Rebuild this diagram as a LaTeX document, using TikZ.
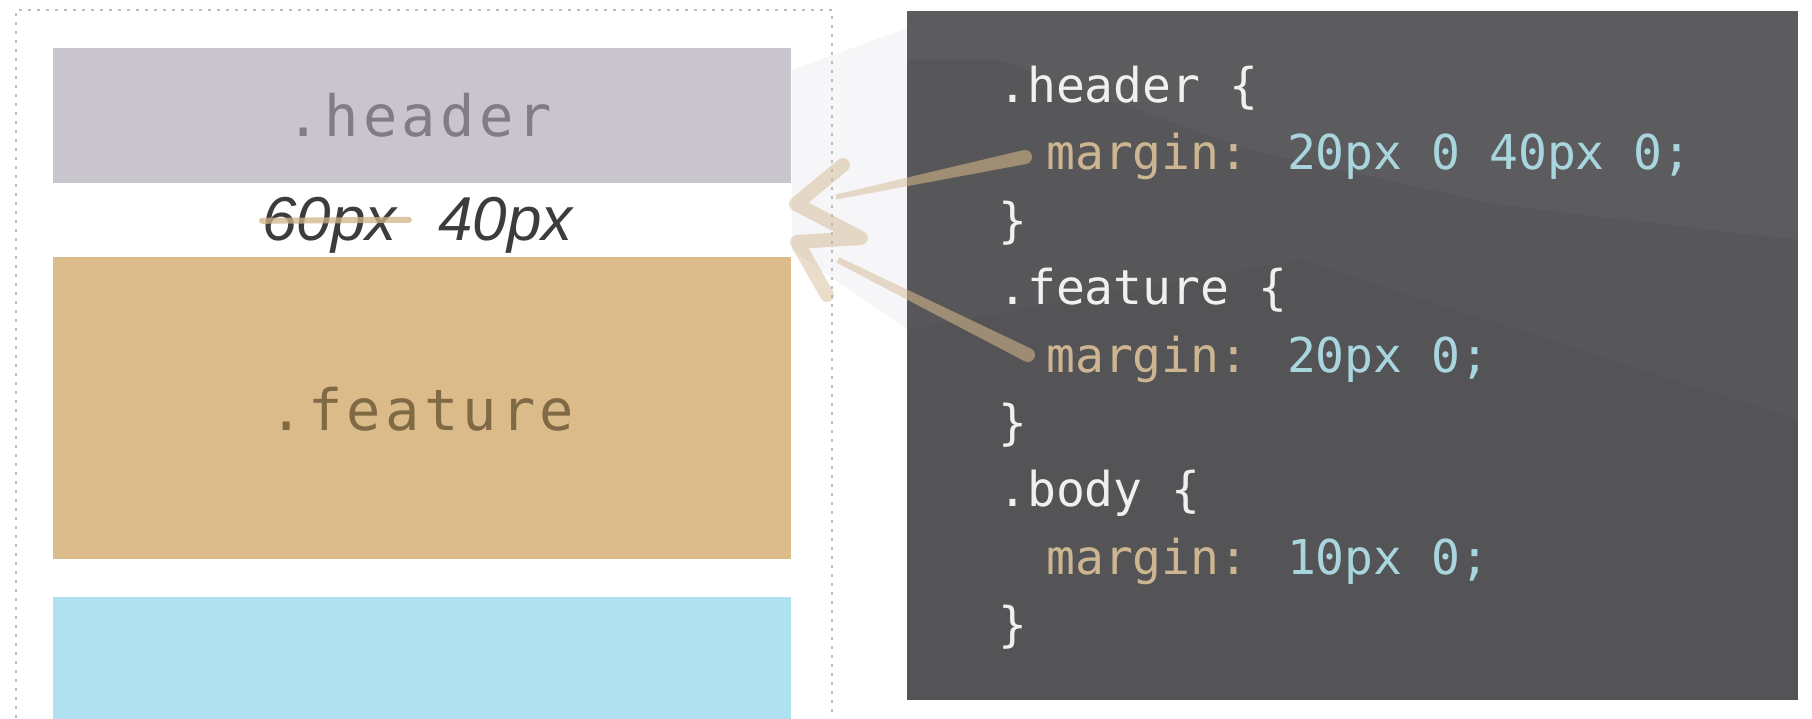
\documentclass[tikz,border=0pt]{standalone}
\usepackage{fontspec}
\newfontfamily\codefont{DejaVu Sans Mono}
\newfontfamily\boxfont[LetterSpace=7.5]{DejaVu Sans Mono}
\newfontfamily\notefont{Liberation Sans}
\definecolor{headerbg}{HTML}{C9C5CD}
\definecolor{headerfg}{HTML}{807D85}
\definecolor{featurebg}{HTML}{DBBB89}
\definecolor{featurefg}{HTML}{806A46}
\definecolor{bodybg}{HTML}{B0E1F0}
\definecolor{panelbg}{HTML}{57575A}
\definecolor{codewhite}{HTML}{F0F0F0}
\definecolor{prop}{HTML}{CDB592}
\definecolor{val}{HTML}{A9D6DE}
\definecolor{notefg}{HTML}{3C3C3E}
\definecolor{brush}{HTML}{D2B488}
\definecolor{dotgray}{HTML}{BDBDBD}
\definecolor{haze}{HTML}{F6F5F8}
\tikzset{
  blockbox/.style={anchor=north west, inner sep=0pt, outer sep=0pt, draw=none},
  boxlabel/.style={anchor=base, inner sep=0pt, font=\boxfont\fontsize{57}{60}\selectfont},
  codeline/.style={anchor=base west, inner sep=0pt, text=codewhite, font=\codefont\fontsize{48}{52}\selectfont},
  note/.style={anchor=base west, inner sep=0pt, text=notefg, font=\notefont\itshape\fontsize{62}{64}\selectfont},
  strike/.style={draw=brush, line width=6pt, line cap=round, opacity=0.75},
  brushline/.style={draw=brush, line width=14pt, line cap=round, line join=round},
  dotline/.style={draw=dotgray, line width=2pt, dash pattern=on 3pt off 6pt}
}
\begin{document}
\begin{tikzpicture}[x=1pt, y=-1pt]
\useasboundingbox (0,0) rectangle (1812,718);
\fill[white] (0,0) rectangle (1812,718);

% faint haze between layout and panel
\fill[haze] (792,70) -- (908,28) -- (908,330) -- (792,250) -- cycle;

% dotted container
\coordinate (cbl) at (16,718);
\coordinate (ctl) at (16,10);
\coordinate (ctr) at (832,10);
\coordinate (cbr) at (832,718);
\draw[dotline] (cbl) -- (ctl) -- (ctr) -- (cbr);

% layout blocks
\node[blockbox, fill=headerbg, minimum width=738pt, minimum height=135pt] (header) at (53,48) {};
\node[boxlabel, text=headerfg] (headerlbl) at (419,136.7) {.header};
\node[blockbox, fill=featurebg, minimum width=738pt, minimum height=302pt] (feature) at (53,257) {};
\node[boxlabel, text=featurefg] (featurelbl) at (422,430.7) {.feature};
\node[blockbox, fill=bodybg, minimum width=738pt, minimum height=122pt] (body) at (53,597) {};

% margin note
\node[note] (old) at (262,240) {60px};
\node[note] (new) at (438,240) {40px};
\draw[strike] ([xshift=0pt,yshift=4pt]old.west) -- ([xshift=12pt,yshift=5pt]old.east);

% code panel
\node[blockbox, fill=panelbg, minimum width=891pt, minimum height=689pt] (panel) at (907,11) {};
\fill[white, opacity=0.035] (907,11) -- (1798,11) -- (1798,240) -- (1500,205) -- (1250,150) -- (1000,60) -- (907,60) -- cycle;
\fill[black, opacity=0.03] (907,330) -- (1300,260) -- (1798,420) -- (1798,700) -- (907,700) -- cycle;

% brush arrows
\coordinate (u1) at (1025,157);
\coordinate (u2) at (836,197);
\coordinate (d1) at (1028,355);
\coordinate (d2) at (838,260);
\coordinate (z1) at (843,165);
\coordinate (z2) at (796,204);
\coordinate (z3) at (861,238);
\coordinate (z4) at (797,242);
\coordinate (z5) at (827,295);
\begin{scope}[transparency group, opacity=0.45]
  \fill[brush] ([xshift=1.5pt,yshift=-6.9pt]u1) -- ([xshift=0.5pt,yshift=-2.4pt]u2)
     -- ([xshift=-0.5pt,yshift=2.4pt]u2) -- ([xshift=-1.5pt,yshift=6.9pt]u1) -- cycle;
  \fill[brush] (u1) circle[radius=7pt];
  \fill[brush] ([xshift=3.1pt,yshift=6.3pt]d1) -- ([xshift=1.3pt,yshift=2.7pt]d2)
     -- ([xshift=-1.3pt,yshift=-2.7pt]d2) -- ([xshift=-3.1pt,yshift=-6.3pt]d1) -- cycle;
  \fill[brush] (d1) circle[radius=7pt];
  \draw[brushline] (z1) -- (z2) -- (z3) -- (z4) -- (z5);
\end{scope}
% stronger tint where the strokes cross the dark panel
\begin{scope}
  \clip (907,11) rectangle (1798,700);
  \begin{scope}[transparency group, opacity=0.25]
    \fill[brush] ([xshift=1.5pt,yshift=-6.9pt]u1) -- ([xshift=0.5pt,yshift=-2.4pt]u2)
       -- ([xshift=-0.5pt,yshift=2.4pt]u2) -- ([xshift=-1.5pt,yshift=6.9pt]u1) -- cycle;
    \fill[brush] (u1) circle[radius=7pt];
    \fill[brush] ([xshift=3.1pt,yshift=6.3pt]d1) -- ([xshift=1.3pt,yshift=2.7pt]d2)
       -- ([xshift=-1.3pt,yshift=-2.7pt]d2) -- ([xshift=-3.1pt,yshift=-6.3pt]d1) -- cycle;
    \fill[brush] (d1) circle[radius=7pt];
  \end{scope}
\end{scope}

% code
\node[codeline] (c1) at (998,102.5) {.header \{};
\node[codeline] (c2) at (1046,169.9) {\textcolor{prop}{margin:} \textcolor{val}{20px 0 40px 0;}};
\node[codeline] (c3) at (998,237.3) {\}};
\node[codeline] (c4) at (998,304.7) {.feature \{};
\node[codeline] (c5) at (1046,372.1) {\textcolor{prop}{margin:} \textcolor{val}{20px 0;}};
\node[codeline] (c6) at (998,439.5) {\}};
\node[codeline] (c7) at (998,506.9) {.body \{};
\node[codeline] (c8) at (1046,574.3) {\textcolor{prop}{margin:} \textcolor{val}{10px 0;}};
\node[codeline] (c9) at (998,641.7) {\}};
\end{tikzpicture}
\end{document}
